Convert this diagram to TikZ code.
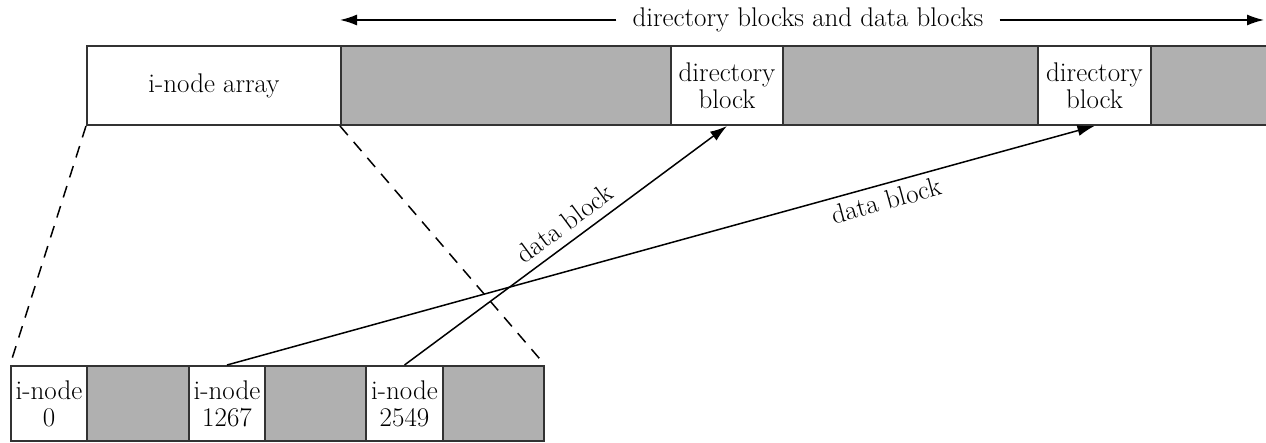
\documentclass[tikz,border=0pt]{standalone}
\usetikzlibrary{arrows.meta}
\begin{document}
\begin{tikzpicture}[x=1pt,y=-1pt,
  cell/.style={draw=black!80,line width=2pt,anchor=north west,minimum height=79pt,inner sep=0pt,align=center,font=\fontsize{27}{29}\selectfont},
  wcell/.style={cell,fill=white},
  gcell/.style={cell,fill=black!31},
  bcell/.style={cell,minimum height=75pt},
  lbl/.style={font=\fontsize{27}{29}\selectfont},
  conn/.style={line width=1.5pt,-{Latex[length=17pt,width=11pt]}},
  dsh/.style={line width=1.5pt,dash pattern=on 12pt off 9pt}]
\useasboundingbox (0,0) rectangle (1266,443);
% top bar
\node[wcell,minimum width=254pt] (ina) at (86,45) {i-node array};
\node[gcell,minimum width=330pt] (g1) at (340,45) {};
\node[wcell,minimum width=112pt] (db1) at (670,45) {directory\\[-2pt]block};
\node[gcell,minimum width=255pt] (g2) at (782,45) {};
\node[wcell,minimum width=113pt] (db2) at (1037,45) {directory\\[-2pt]block};
\node[gcell,minimum width=130pt] (g3) at (1150,45) {};
% bottom bar
\node[wcell,bcell,minimum width=76pt] (i0) at (10,365) {i-node\\[-2pt]0};
\node[gcell,bcell,minimum width=102pt] (g4) at (86,365) {};
\node[wcell,bcell,minimum width=76pt] (i1267) at (188,365) {i-node\\[-2pt]1267};
\node[gcell,bcell,minimum width=101pt] (g5) at (264,365) {};
\node[wcell,bcell,minimum width=77pt] (i2549) at (365,365) {i-node\\[-2pt]2549};
\node[gcell,bcell,minimum width=101pt] (g6) at (442,365) {};
% top arrow
\coordinate (L) at (340,20);
\coordinate (R) at (1264,20);
\node[lbl,outer xsep=13pt] (t) at (808,20) {directory blocks and data blocks};
\draw[conn] (t.west) -- (L);
\draw[conn] (t.east) -- (R);
% dashed zoom lines
\draw[dsh] (ina.south west) -- (i0.north west);
\draw[dsh] (g1.south west) -- (g6.north east);
% data block arrows
\draw[conn] (i2549.north) -- (db1.south) node[lbl,pos=0.53,sloped,above=5pt] {data block};
\draw[conn] (i1267.north) -- (db2.south) node[lbl,pos=0.755,sloped,below=3pt] {data block};
\end{tikzpicture}
\end{document}
